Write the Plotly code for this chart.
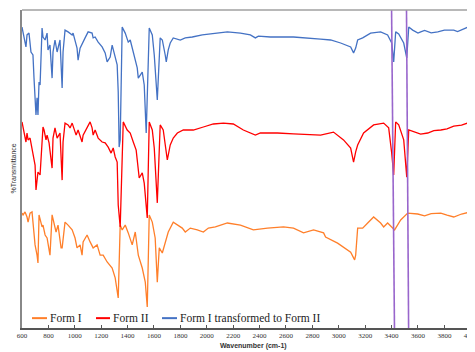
import plotly.graph_objects as go

# ---- data (wavenumber cm-1, %T offset for display) ----
wn_blue = [600, 608, 623, 630, 638, 653, 668, 683, 691, 706, 714, 721, 729, 737, 752, 759, 775, 790, 797, 812,
           828, 835, 850, 866, 888, 904, 911, 926, 949, 980, 987, 1017, 1025, 1040, 1078, 1101, 1131, 1139, 1154, 1177,
           1207, 1230, 1245, 1268, 1283, 1298, 1321, 1329, 1336, 1344, 1359, 1382, 1405, 1420, 1443, 1458, 1473, 1481,
           1496, 1511, 1526, 1541, 1564, 1587, 1602, 1625, 1647, 1663, 1685, 1693, 1708, 1723, 1746, 1799, 1837, 1890,
           1966, 2065, 2156, 2255, 2330, 2368, 2391, 2482, 2657, 2862, 2938, 3014, 3090, 3112, 3128, 3143, 3181, 3241,
           3317, 3370, 3401, 3416, 3431, 3454, 3492, 3515, 3530, 3560, 3600, 3621, 3650, 3700, 3750, 3800, 3871, 3900,
           3950, 4000]
t_blue = [100.3, 98.3, 95.3, 93.7, 97.7, 98.3, 92, 91, 83.3, 71, 76.7, 71, 82, 81, 100, 97, 96, 98.3, 92.7, 94.3,
          83.3, 92, 96, 92, 96, 80, 92, 99.3, 98.7, 97.7, 98.3, 93.3, 89.3, 93.3, 96.7, 98.7, 98.3, 96.7, 97, 95.3,
          93.7, 91.7, 88.7, 90.3, 94.3, 92, 87.7, 78.7, 60.3, 62.7, 100.3, 98.3, 95.3, 96, 92, 90, 86.7, 83.3,
          84.3, 85.3, 81, 65, 100, 97.7, 91, 76, 96.7, 96, 91, 88.7, 92.7, 95, 96.7, 96, 96.7, 97,
          97.7, 98.3, 98.7, 98.3, 97.7, 96.7, 97.3, 97, 97, 96.3, 96, 95, 93.7, 91.7, 93.3, 96, 96.7, 98.3,
          98.7, 97.7, 95, 88.7, 98.7, 98, 95, 90, 100.3, 99.3, 98.3, 98.7, 99.2, 98.4, 98.7, 99.3, 99.3, 98.8,
          99.8, 100.7]

wn_red = [600, 608, 623, 630, 638, 646, 661, 676, 683, 699, 706, 714, 721, 737, 744, 759, 767, 782, 790, 805,
          828, 835, 850, 866, 888, 904, 911, 926, 949, 964, 980, 1010, 1025, 1055, 1063, 1093, 1116, 1131, 1139, 1154,
          1177, 1207, 1230, 1253, 1275, 1291, 1306, 1321, 1329, 1344, 1367, 1397, 1420, 1443, 1465, 1488, 1511, 1526,
          1549, 1564, 1587, 1602, 1625, 1647, 1670, 1701, 1723, 1746, 1777, 1822, 1898, 1974, 2050, 2126, 2201, 2277,
          2368, 2406, 2535, 2657, 2786, 2862, 2960, 3036, 3090, 3112, 3128, 3143, 3188, 3264, 3340, 3378, 3401, 3416,
          3431, 3454, 3492, 3515, 3530, 3568, 3620, 3674, 3720, 3773, 3820, 3871, 3930, 4000]
t_red = [68.7, 66.7, 64.3, 62, 65, 62.7, 63.3, 60, 57.7, 54.3, 46, 51, 52, 51, 57.7, 67, 66, 62.7, 64.3, 61.7,
         53.3, 63.3, 66.7, 63.3, 65, 49.3, 62, 68.3, 67.7, 66.7, 68.3, 64.3, 66, 62, 64.3, 67, 68.7, 66.7, 64.3, 66,
         63.3, 62, 61.7, 60.3, 58.3, 60, 57, 55.3, 41, 33.7, 68.7, 66, 65, 62, 59.3, 50, 51.7, 48.3,
         36.7, 68.7, 66, 60, 41.7, 67.7, 66, 56, 61, 63.3, 65, 66, 66, 67, 68, 68.3, 68, 66,
         64.3, 65, 65, 64.7, 64.3, 64.3, 65.3, 62.7, 60, 55.3, 58.7, 61, 65, 67.7, 68.3, 66.7, 58.3, 51,
         68.7, 67.7, 62.7, 50.3, 66, 65.3, 64.6, 65, 65.8, 66, 66.4, 67.3, 67.6, 68.7]

wn_orange = [600, 608, 623, 638, 646, 661, 676, 683, 699, 714, 721, 729, 752, 759, 775, 790, 812, 828, 843, 858,
             873, 896, 904, 926, 949, 980, 1002, 1017, 1040, 1055, 1063, 1093, 1116, 1139, 1169, 1192, 1215, 1245, 1283, 1306,
             1329, 1344, 1359, 1382, 1405, 1435, 1458, 1481, 1511, 1534, 1549, 1564, 1587, 1609, 1625, 1640, 1663, 1685,
             1708, 1746, 1777, 1814, 1837, 1875, 1928, 1974, 2012, 2065, 2156, 2255, 2353, 2460, 2581, 2657, 2733, 2809,
             2885, 2900, 2991, 3090, 3120, 3128, 3143, 3181, 3219, 3264, 3317, 3340, 3370, 3423, 3469, 3522, 3598, 3650,
             3700, 3773, 3820, 3871, 3930, 4000]
t_orange = [38.3, 37.7, 38.7, 37, 35.3, 38.3, 38.7, 34.3, 27.7, 24.3, 21.7, 37.7, 33.7, 34.3, 31, 30, 24.3, 37.7, 34.3, 32,
            34.3, 26.7, 26.7, 35.3, 34.3, 32.7, 30, 26.7, 27.7, 24.3, 28.7, 31, 28.7, 26.7, 27.7, 24.3, 24.3, 22, 20, 16.7,
            10, 34.3, 32.7, 34.3, 31.7, 27.7, 32, 24.3, 20, 15.3, 7, 37.7, 35.3, 30, 15.3, 26.7, 25, 28.7,
            32, 35.3, 34.3, 33.3, 32, 33.3, 32.7, 32, 33.3, 33.7, 35, 34.3, 32.7, 33.3, 33.7, 33.3, 31.7, 32.7,
            31.7, 30.3, 28.3, 25.3, 22.7, 24.3, 33.3, 33.3, 35, 37, 35, 33.7, 35, 32.7, 36, 38.3, 38, 37.4,
            38.1, 38.3, 37.6, 37, 38, 38.7]

series_names = ["Form I", "Form II", "Form I transformed to Form II"]
series_colors = ["#FF7F2A", "#FF0000", "#4472C4"]

marker_lines = [(3400, 3422), (3513, 3529)]  # purple guide lines (top, bottom)

x_ticks = list(range(600, 4001, 200))

fig = go.Figure()
for wn, t, name, col in zip([wn_orange, wn_red, wn_blue], [t_orange, t_red, t_blue], series_names, series_colors):
    fig.add_trace(go.Scatter(x=wn, y=t, mode="lines", name=name, line=dict(color=col, width=1.3)))

shapes = []
for top, bot in marker_lines:
    shapes.append(dict(type="line", xref="x", yref="paper", x0=top, y0=1, x1=bot, y1=0,
                       line=dict(color="#9966CC", width=1.6)))
shapes.append(dict(type="line", xref="paper", yref="paper", x0=0, y0=1, x1=1, y1=1,
                   line=dict(color="#A0A0A0", width=1.5)))

# legend drawn as line samples + serif labels inside the bottom of the plot
legend_line_x = [(0.0221, 0.0552), (0.1634, 0.1943), (0.3091, 0.3422)]
legend_y = 0.031
annotations = []
for (x0, x1), name, col in zip(legend_line_x, series_names, series_colors):
    shapes.append(dict(type="line", xref="paper", yref="paper", x0=x0, x1=x1, y0=legend_y, y1=legend_y,
                       line=dict(color=col, width=2)))
    annotations.append(dict(text=name, xref="paper", yref="paper", x=x1 + 0.002, y=legend_y,
                            xanchor="left", yanchor="middle", showarrow=False,
                            font=dict(family="Liberation Serif", size=11.5, color="#222")))

annotations += [
    dict(text="%Transmittance", xref="paper", yref="paper", x=-0.033, y=0.5,
         textangle=-90, showarrow=False, font=dict(family="Liberation Sans", size=7, color="#333")),
    dict(text="<b>Wavenumber (cm-1)</b>", xref="paper", yref="paper", x=0.51, y=-0.057,
         yanchor="middle", showarrow=False, font=dict(family="Liberation Sans", size=7, color="#333")),
]

fig.update_layout(
    width=467, height=344,
    margin=dict(l=14, r=0, t=2, b=24),
    paper_bgcolor="white", plot_bgcolor="white",
    showlegend=False,
    shapes=shapes,
    annotations=annotations,
    xaxis=dict(range=[600, 4032], tickmode="array", tickvals=x_ticks,
               ticktext=[str(v) for v in x_ticks], showgrid=False, zeroline=False,
               showline=True, linecolor="#555", linewidth=1.5, ticks="inside", ticklen=3,
               tickcolor="#555", tickfont=dict(family="Liberation Serif", size=7, color="#333"),
               ticklabeloverflow="allow", automargin=False),
    yaxis=dict(range=[0, 106], showgrid=False, zeroline=False, showticklabels=False,
               showline=True, linecolor="#888", linewidth=1.5, ticks="", automargin=False),
)

fig.write_html("out.html")
